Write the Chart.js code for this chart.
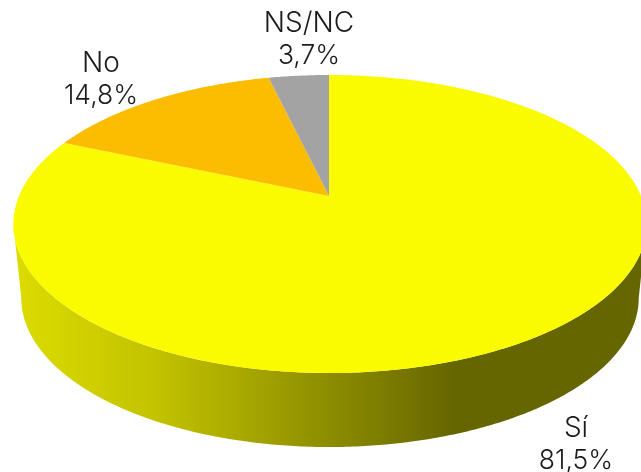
<!DOCTYPE html>
<html><head><meta charset="utf-8">
<style>html,body{margin:0;padding:0;background:#fff;overflow:hidden}canvas{display:block}</style>
<script src="https://cdn.jsdelivr.net/npm/chart.js@4"></script>
</head><body><canvas id="c" width="641" height="472"></canvas>
<script>
const categories = ['Sí', 'No', 'NS/NC'];
const values = [81.5, 14.8, 3.7];
const valueLabels = ['81,5%', '14,8%', '3,7%'];
const sliceColors = ['#fbfb00', '#fcbc00', '#a3a3a3'];

// perspective projection of the unit disc on to the page
const VIEW = {cx: 329, apexY: 196, KL: 310, KR: 312, A: 106.9, C: -0.188, depth: 74, lowerScale: 0.975};
function project(a, lift, xs) {
  const u = Math.sin(a), v = -Math.cos(a), w = 1 + VIEW.C * v;
  const K = (u > 0 ? VIEW.KR : VIEW.KL) * (xs || 1);
  return [VIEW.cx + K * u / w, (VIEW.apexY + VIEW.A * v) / w + (lift || 0)];
}
function traceArc(ctx, a0, a1, lift, xs, first) {
  const n = Math.max(2, Math.ceil(Math.abs(a1 - a0) / 0.01));
  for (let i = 0; i <= n; i++) {
    const p = project(a0 + (a1 - a0) * i / n, lift, xs);
    if (i === 0 && first) ctx.moveTo(p[0], p[1]); else ctx.lineTo(p[0], p[1]);
  }
}
class TiltedArc extends Chart.ArcElement {
  static id = 'tiltedArc';
  draw(ctx) {
    const a0 = this.startAngle + Math.PI / 2, a1 = this.endAngle + Math.PI / 2;
    ctx.save();
    ctx.fillStyle = this.options.backgroundColor;
    ctx.beginPath();
    ctx.moveTo(VIEW.cx, VIEW.apexY);
    traceArc(ctx, a0, a1, 0, 1, false);
    ctx.closePath();
    ctx.fill();
    ctx.restore();
  }
}
class TiltedPie extends Chart.PieController {
  static id = 'tiltedPie';
  static defaults = {dataElementType: 'tiltedArc'};
}
Chart.register(TiltedArc, TiltedPie);

const rimPlugin = {
  id: 'rim',
  beforeDatasetsDraw(chart) {
    const ctx = chart.ctx, aR = 1.76, aL = 2 * Math.PI - 1.76;
    const g = ctx.createLinearGradient(15, 0, 641, 0);
    g.addColorStop(0, '#dcdc00');
    g.addColorStop(0.23, '#c2c200');
    g.addColorStop(0.49, '#8f8f00');
    g.addColorStop(0.7, '#666600');
    g.addColorStop(1, '#666600');
    ctx.save();
    ctx.fillStyle = g;
    ctx.beginPath();
    traceArc(ctx, aR, aL, 0, 1, true);
    traceArc(ctx, aL, aR, VIEW.depth, VIEW.lowerScale, false);
    ctx.closePath();
    ctx.fill();
    ctx.restore();
  }
};
const labelPlugin = {
  id: 'sliceLabels',
  afterDatasetsDraw(chart, args, opts) {
    const ctx = chart.ctx;
    ctx.save();
    ctx.fillStyle = opts.color;
    ctx.textAlign = 'center';
    ctx.textBaseline = 'middle';
    categories.forEach((c, i) => {
      const p = opts.centers[i];
      ctx.font = opts.nameFont;
      ctx.fillText(c, p[0], p[1]);
      ctx.font = opts.valueFont;
      ctx.fillText(valueLabels[i], p[0], p[1] + opts.lineGap);
    });
    ctx.restore();
  }
};
new Chart(document.getElementById('c'), {
  type: 'tiltedPie',
  data: {labels: categories, datasets: [{data: values, backgroundColor: sliceColors, borderWidth: 0}]},
  options: {
    responsive: false, animation: false,
    plugins: {
      legend: {display: false}, tooltip: {enabled: false},
      sliceLabels: {nameFont: '300 28px Inter', valueFont: '300 26.5px Inter', color: '#1c1c1c', lineGap: 32,
        centers: [[576, 429], [101, 64], [309, 24]]}
    }
  },
  plugins: [rimPlugin, labelPlugin]
});
</script></body></html>
